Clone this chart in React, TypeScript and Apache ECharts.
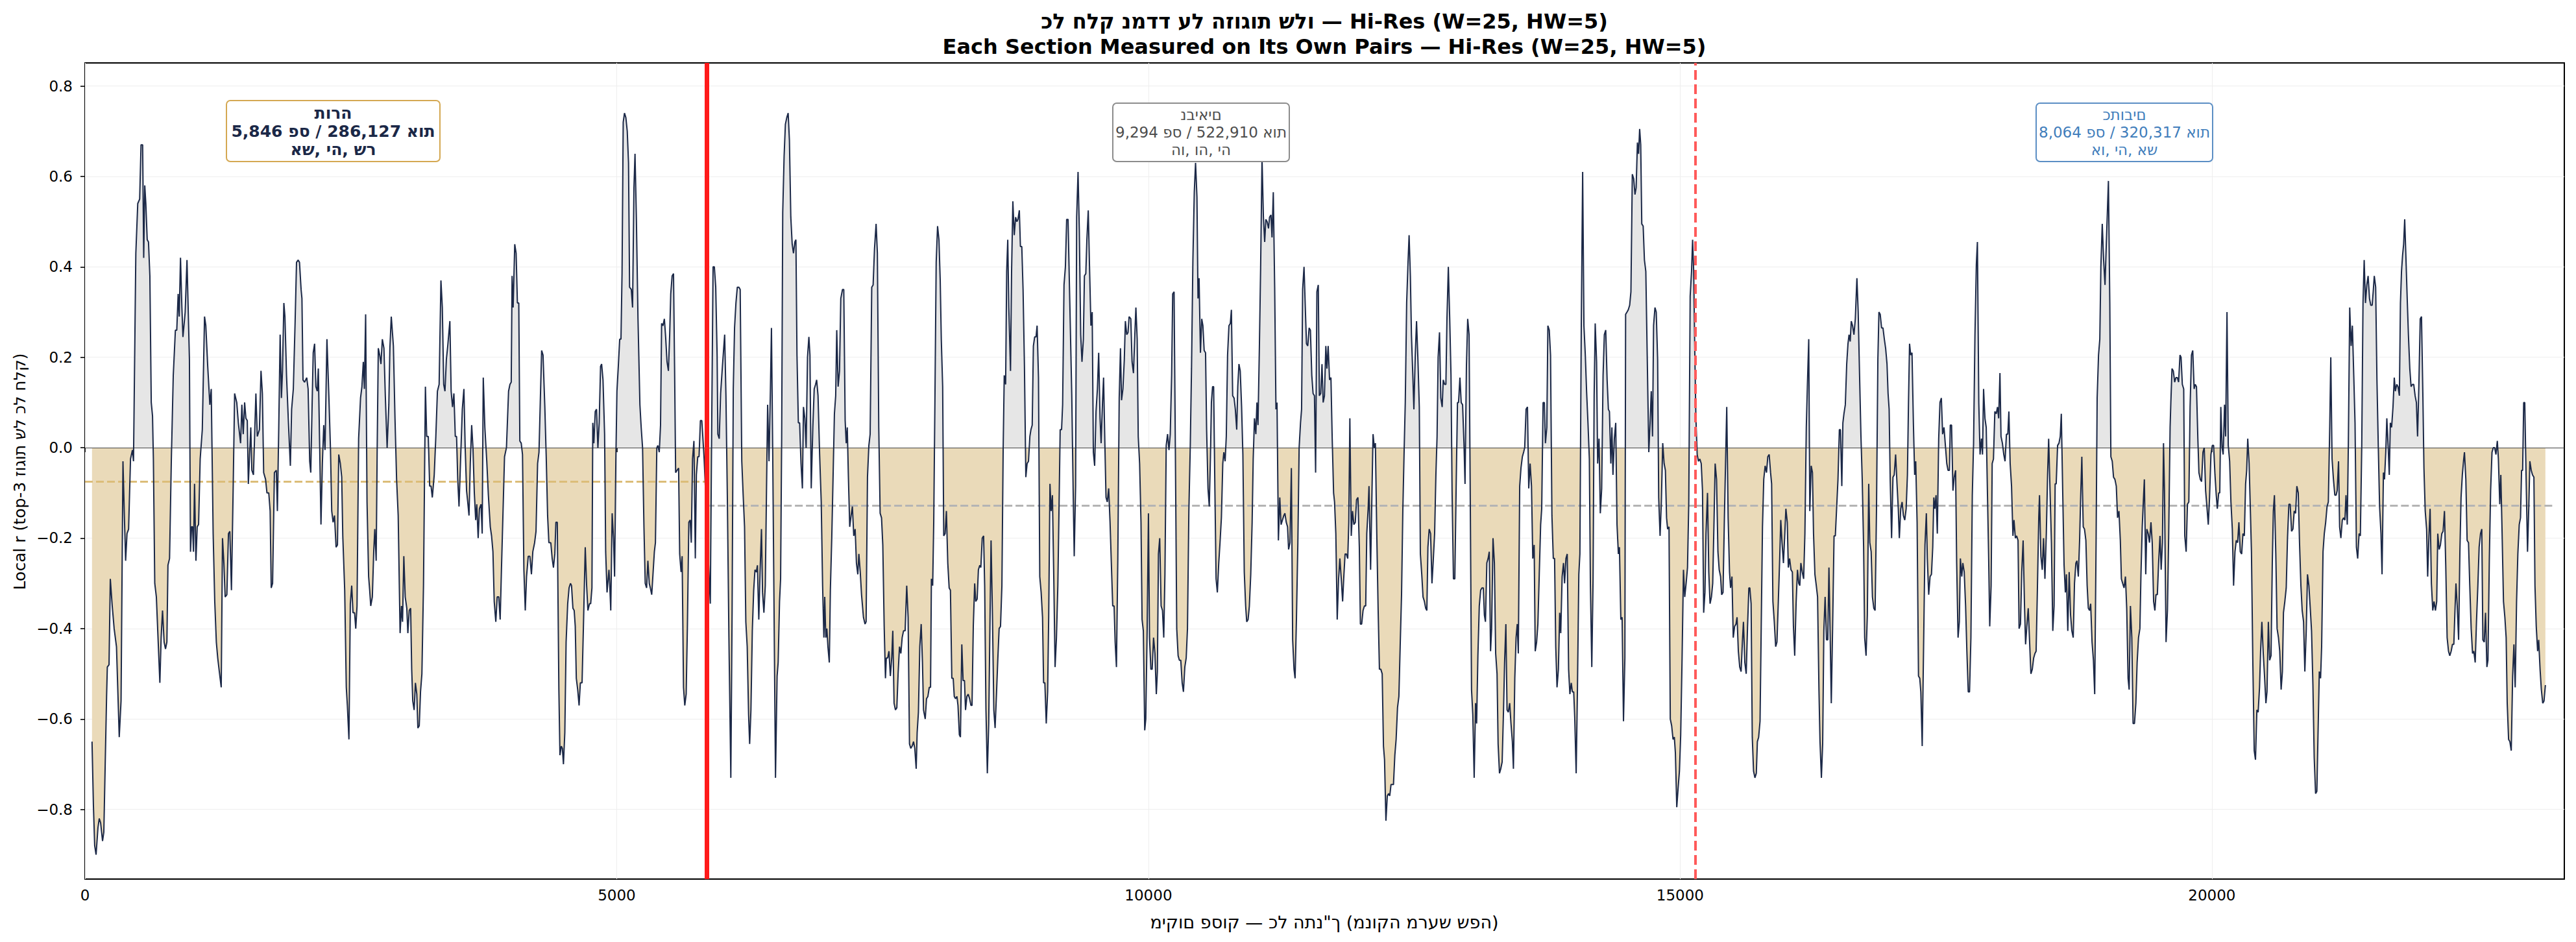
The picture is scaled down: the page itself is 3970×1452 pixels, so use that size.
import React, { useEffect, useRef } from "react";
import * as echarts from "echarts";

// ---------- texts ----------
const TITLE_HE = "כל חלק נמדד על הזוגות שלו — Hi-Res (W=25, HW=5)";
const TITLE_EN = "Each Section Measured on Its Own Pairs — Hi-Res (W=25, HW=5)";
const X_LABEL = "מיקום פסוק — כל התנ\"ך (מנוקה מרעש שפה)";
const Y_LABEL = "Local r (top-3 זוגות של כל חלק)";

const SECTION_NAMES = ["תורה", "נביאים", "כתובים"];
const SECTION_STATS = ["5,846 פס / 286,127 אות", "9,294 פס / 522,910 אות", "8,064 פס / 320,317 אות"];
const SECTION_TOP_PAIRS = ["אש, יה, שר", "הו, וה, יה", "או, יה, אש"];
const SECTION_STARTS = [0, 5846, 15140];
const SECTION_ENDS = [5846, 15140, 23204];
const SECTION_MEANS = [-0.075, -0.128, -0.128];

const X_TICK_STEP = 5000;
const X_TICKS = [0, 5000, 10000, 15000, 20000];
const Y_TICK_STEP = 0.2;
const Y_TICKS = [-0.8, -0.6, -0.4, -0.2, 0, 0.2, 0.4, 0.6, 0.8];
const X_MAX = 23314;
const Y_MIN = -0.954;
const Y_MAX = 0.851;

// ---------- data: [verse position, local r] ----------
const TORAH: [number, number][] = [
[66,-0.65],[79,-0.79],[91,-0.88],[104,-0.9],[122,-0.84],[134,-0.82],[147,-0.83],[165,-0.87],[177,-0.85],[203,-0.55],
[210,-0.485],[226,-0.48],[238,-0.29],[256,-0.35],[274,-0.4],[296,-0.44],[322,-0.64],[339,-0.56],[357,-0.03],[370,-0.15],
[382,-0.25],[395,-0.19],[410,-0.18],[428,-0.025],[446,-0.005],[456,-0.03],[478,0.43],[496,0.54],[514,0.55],[527,0.67],
[542,0.67],[552,0.42],[562,0.58],[572,0.54],[585,0.46],[597,0.455],[610,0.38],[623,0.1],[635,0.07],[643,-0.025],
[656,-0.3],[671,-0.33],[704,-0.52],[716,-0.42],[729,-0.36],[744,-0.43],[757,-0.445],[770,-0.43],[780,-0.26],[795,-0.245],
[812,-0.025],[830,0.16],[850,0.26],[863,0.26],[876,0.34],[886,0.29],[898,0.42],[911,0.31],[921,0.245],[942,0.3],
[959,0.415],[982,0.195],[992,-0.23],[1002,-0.175],[1012,-0.175],[1020,-0.23],[1030,-0.08],[1043,-0.25],[1055,-0.175],[1068,-0.17],
[1083,-0.025],[1103,0.04],[1124,0.29],[1136,0.27],[1154,0.18],[1174,0.095],[1187,0.13],[1205,-0.19],[1220,-0.34],[1235,-0.43],
[1248,-0.465],[1263,-0.495],[1281,-0.53],[1293,-0.2],[1306,-0.255],[1318,-0.33],[1334,-0.325],[1349,-0.19],[1362,-0.185],[1377,-0.315],
[1394,-0.08],[1407,0.12],[1427,0.1],[1442,0.055],[1463,0.01],[1475,0.095],[1488,0.03],[1501,0.1],[1513,0.065],[1526,0.06],
[1536,-0.08],[1546,-0.025],[1559,0.045],[1569,-0.05],[1584,-0.06],[1607,0.12],[1620,0.025],[1640,0.04],[1655,0.17],[1668,0.12],
[1680,-0.055],[1698,-0.07],[1711,-0.1],[1728,-0.1],[1741,-0.14],[1751,-0.31],[1764,-0.3],[1781,-0.055],[1799,-0.05],[1809,-0.14],
[1822,0.045],[1835,0.25],[1847,0.11],[1857,0.17],[1870,0.32],[1880,0.29],[1895,0.16],[1913,0.055],[1931,-0.04],[1943,0.085],
[1959,0.13],[1976,0.28],[1989,0.41],[2004,0.415],[2017,0.41],[2032,0.35],[2040,0.33],[2050,0.15],[2065,0.145],[2085,0.155],
[2098,0.13],[2113,-0.03],[2123,-0.055],[2136,0.1],[2146,0.21],[2159,0.23],[2171,0.135],[2184,0.125],[2194,0.175],[2207,0],
[2219,-0.17],[2232,-0.035],[2245,0.05],[2257,-0.005],[2275,0.24],[2293,0.115],[2308,0],[2320,-0.14],[2333,-0.165],[2346,-0.15],
[2361,-0.22],[2374,-0.215],[2386,-0.015],[2401,-0.035],[2414,-0.065],[2424,-0.195],[2442,-0.315],[2457,-0.53],[2467,-0.57],[2482,-0.645],
[2495,-0.345],[2508,-0.305],[2520,-0.365],[2535,-0.365],[2546,-0.4],[2558,-0.35],[2573,0.02],[2591,0.11],[2604,0.135],[2617,0.19],
[2627,0.13],[2639,0.295],[2652,-0.12],[2667,-0.285],[2677,-0.315],[2687,-0.35],[2702,-0.33],[2715,-0.23],[2725,-0.18],[2738,-0.25],
[2748,0.01],[2758,0.22],[2771,0.205],[2783,0.185],[2796,0.24],[2811,0.22],[2824,0.115],[2841,0],[2857,0.095],[2867,0.22],
[2880,0.29],[2900,0.225],[2915,0.065],[2930,-0.07],[2945,-0.15],[2963,-0.41],[2976,-0.35],[2986,-0.385],[2998,-0.24],[3011,-0.33],
[3026,-0.355],[3036,-0.41],[3049,-0.36],[3062,-0.355],[3072,-0.49],[3082,-0.56],[3095,-0.58],[3107,-0.52],[3120,-0.545],[3130,-0.62],
[3143,-0.615],[3155,-0.54],[3168,-0.5],[3183,-0.305],[3201,0.135],[3213,0.025],[3228,0.025],[3241,-0.085],[3254,-0.085],[3266,-0.11],
[3284,-0.06],[3299,0.025],[3314,0.125],[3330,0.14],[3347,0.37],[3360,0.31],[3373,0.14],[3385,0.125],[3398,0.195],[3411,0.225],
[3431,0.28],[3443,0.125],[3456,0.09],[3469,0.12],[3482,0.025],[3494,0.025],[3505,-0.07],[3517,-0.13],[3532,-0.025],[3548,0.085],
[3563,0.13],[3575,0],[3588,-0.095],[3601,-0.125],[3611,-0.15],[3623,-0.035],[3636,0.05],[3648,0],[3661,-0.1],[3674,-0.16],
[3684,-0.125],[3697,-0.2],[3709,-0.135],[3724,-0.125],[3735,-0.19],[3745,0.155],[3760,0.045],[3778,-0.03],[3793,-0.105],[3811,-0.175],
[3823,-0.195],[3836,-0.23],[3848,-0.34],[3863,-0.385],[3876,-0.33],[3891,-0.33],[3904,-0.38],[3916,-0.27],[3931,-0.14],[3945,-0.02],
[3963,0],[3983,0.125],[3996,0.14],[4008,0.145],[4016,0.38],[4026,0.31],[4041,0.45],[4054,0.43],[4066,0.32],[4079,0.32],
[4089,0.015],[4102,0.01],[4114,-0.015],[4127,-0.27],[4140,-0.36],[4152,-0.285],[4168,-0.24],[4183,-0.24],[4198,-0.28],[4211,-0.23],
[4228,-0.21],[4241,-0.185],[4256,-0.035],[4269,-0.01],[4281,0.1],[4294,0.215],[4307,0.205],[4324,0.09],[4337,-0.02],[4350,-0.15],
[4362,-0.21],[4380,-0.21],[4393,-0.245],[4405,-0.265],[4418,-0.235],[4428,-0.165],[4441,-0.165],[4456,-0.535],[4466,-0.68],[4479,-0.66],
[4489,-0.665],[4499,-0.7],[4512,-0.63],[4524,-0.43],[4539,-0.345],[4552,-0.31],[4565,-0.3],[4575,-0.305],[4588,-0.355],[4600,-0.36],
[4610,-0.395],[4620,-0.51],[4633,-0.535],[4646,-0.57],[4658,-0.52],[4674,-0.52],[4689,-0.375],[4704,-0.22],[4717,-0.305],[4729,-0.36],
[4744,-0.345],[4755,-0.345],[4767,-0.31],[4775,0.055],[4785,0.01],[4798,0.08],[4810,0.085],[4823,0],[4835,0.055],[4848,0.18],
[4858,0.185],[4871,0.15],[4886,0.03],[4896,-0.23],[4909,-0.32],[4927,-0.27],[4934,-0.3],[4944,-0.36],[4957,-0.145],[4970,-0.2],
[4980,-0.285],[4992,-0.025],[5002,0.125],[5015,0.18],[5028,0.24],[5040,0.24],[5050,0.385],[5061,0.72],[5073,0.74],[5086,0.73],
[5099,0.7],[5111,0.63],[5121,0.355],[5137,0.35],[5149,0.31],[5162,0.575],[5172,0.65],[5185,0.505],[5200,0.285],[5218,0.095],
[5230,0.045],[5243,0],[5256,-0.175],[5268,-0.3],[5281,-0.31],[5293,-0.25],[5306,-0.3],[5316,-0.31],[5329,-0.325],[5341,-0.28],
[5354,-0.23],[5364,-0.21],[5377,0],[5387,0.005],[5400,-0.01],[5412,0.05],[5422,0.275],[5435,0.27],[5448,0.285],[5460,0.245],
[5473,0.19],[5486,0.17],[5498,0.25],[5508,0.34],[5521,0.38],[5534,0.385],[5544,0.18],[5554,-0.055],[5567,-0.05],[5582,-0.045],
[5592,-0.235],[5605,-0.275],[5615,-0.24],[5628,-0.53],[5640,-0.57],[5653,-0.545],[5665,-0.39],[5678,-0.165],[5691,-0.16],[5701,-0.21],
[5713,-0.025],[5726,0.015],[5739,-0.245],[5749,-0.06],[5762,-0.02],[5774,-0.02],[5787,0.06],[5800,0.06],[5812,0.015],[5822,-0.025],
[5835,-0.095],[5846,-0.17]
];

const NEVIIM: [number, number][] = [
[5868,-0.28],[5880,-0.345],[5893,0.045],[5906,0.4],[5918,0.4],[5931,0.355],[5944,0.205],[5951,0.03],[5964,0.02],[5977,0.12],
[5994,0.18],[6015,0.25],[6027,0.115],[6040,-0.105],[6055,-0.42],[6073,-0.73],[6085,-0.36],[6096,0.13],[6108,0.265],[6121,0.32],
[6134,0.355],[6149,0.355],[6161,0.35],[6176,-0.03],[6189,-0.105],[6202,-0.175],[6214,-0.385],[6227,-0.44],[6240,-0.59],[6250,-0.655],
[6262,-0.58],[6275,-0.405],[6288,-0.315],[6300,-0.27],[6313,-0.275],[6323,-0.26],[6336,-0.38],[6348,-0.275],[6361,-0.18],[6371,-0.32],
[6384,-0.365],[6397,-0.305],[6409,-0.085],[6419,0.095],[6432,-0.03],[6445,0.125],[6455,0.265],[6467,-0.015],[6480,-0.375],[6493,-0.73],
[6508,-0.505],[6518,-0.475],[6531,-0.34],[6541,-0.29],[6551,0.02],[6561,0.52],[6574,0.645],[6586,0.715],[6599,0.73],[6612,0.74],
[6624,0.68],[6637,0.51],[6650,0.45],[6662,0.43],[6675,0.455],[6685,0.46],[6695,0.205],[6708,0.055],[6720,0.055],[6733,-0.035],
[6746,-0.09],[6756,0.09],[6769,0.065],[6781,0],[6794,0.2],[6807,0.245],[6817,0.205],[6829,-0.09],[6844,0.045],[6857,0.13],
[6870,0.14],[6880,0.15],[6893,0.115],[6908,-0.015],[6923,-0.12],[6936,-0.305],[6948,-0.42],[6956,-0.33],[6966,-0.42],[6976,-0.4],
[6986,-0.44],[6999,-0.475],[7009,-0.315],[7022,-0.2],[7034,-0.07],[7047,0.075],[7059,0.115],[7069,0.26],[7082,0.135],[7095,0.17],
[7107,0.33],[7123,0.35],[7135,0.35],[7148,0.06],[7158,0.01],[7168,0.045],[7178,-0.06],[7191,-0.175],[7204,-0.15],[7216,-0.13],
[7229,-0.195],[7242,-0.18],[7254,-0.255],[7267,-0.28],[7277,-0.235],[7290,-0.275],[7302,-0.325],[7320,-0.375],[7335,-0.39],[7345,-0.385],
[7358,-0.065],[7371,0.005],[7383,0.03],[7398,0.355],[7411,0.36],[7424,0.44],[7439,0.495],[7451,0.43],[7464,0.045],[7477,-0.145],
[7490,-0.155],[7502,-0.215],[7515,-0.395],[7527,-0.51],[7535,-0.465],[7548,-0.465],[7560,-0.45],[7573,-0.505],[7586,-0.465],[7596,-0.405],
[7608,-0.565],[7621,-0.58],[7634,-0.575],[7646,-0.5],[7659,-0.44],[7672,-0.455],[7684,-0.42],[7697,-0.405],[7712,-0.405],[7727,-0.305],
[7740,-0.375],[7753,-0.655],[7765,-0.665],[7778,-0.66],[7791,-0.65],[7803,-0.665],[7816,-0.71],[7825,-0.63],[7837,-0.585],[7850,-0.44],
[7863,-0.39],[7875,-0.475],[7885,-0.58],[7901,-0.6],[7913,-0.555],[7926,-0.55],[7939,-0.53],[7951,-0.53],[7959,-0.29],[7971,-0.305],
[7981,-0.165],[7992,0.1],[8004,0.41],[8017,0.49],[8030,0.46],[8042,0.37],[8052,0.24],[8065,0.135],[8075,-0.195],[8088,-0.19],
[8100,-0.14],[8113,-0.255],[8126,-0.31],[8138,-0.315],[8151,-0.51],[8164,-0.51],[8174,-0.55],[8186,-0.555],[8199,-0.55],[8209,-0.57],
[8222,-0.635],[8232,-0.64],[8245,-0.435],[8257,-0.515],[8270,-0.515],[8280,-0.58],[8293,-0.55],[8305,-0.545],[8318,-0.555],[8331,-0.57],
[8341,-0.57],[8353,-0.395],[8366,-0.3],[8376,-0.34],[8389,-0.335],[8401,-0.27],[8414,-0.26],[8424,-0.265],[8437,-0.2],[8450,-0.195],
[8460,-0.305],[8472,-0.58],[8485,-0.72],[8498,-0.61],[8508,-0.42],[8520,-0.205],[8533,-0.37],[8546,-0.58],[8558,-0.62],[8571,-0.545],
[8584,-0.465],[8596,-0.4],[8609,-0.395],[8622,-0.305],[8634,0],[8644,0.16],[8657,0.14],[8667,0.39],[8677,0.46],[8687,0.31],
[8703,0.17],[8713,0.39],[8725,0.545],[8738,0.47],[8751,0.51],[8763,0.5],[8773,0.505],[8786,0.525],[8796,0.445],[8809,0.445],
[8821,0.35],[8834,0.18],[8847,-0.065],[8859,-0.035],[8872,-0.03],[8885,0.025],[8895,0.04],[8907,0.05],[8918,0.225],[8930,0.245],
[8943,0.245],[8953,0.27],[8966,0.155],[8978,-0.285],[8991,-0.32],[9004,-0.375],[9014,-0.52],[9026,-0.52],[9039,-0.61],[9052,-0.54],
[9062,-0.375],[9074,-0.08],[9085,-0.14],[9097,-0.105],[9110,-0.29],[9122,-0.485],[9135,-0.42],[9148,-0.305],[9160,-0.12],[9170,0.04],
[9183,0.04],[9193,0.095],[9206,0.36],[9219,0.4],[9231,0.505],[9244,0.505],[9256,0.37],[9267,0.25],[9279,0.115],[9292,-0.095],
[9302,-0.24],[9315,-0.085],[9325,0.51],[9338,0.61],[9350,0.48],[9363,0.25],[9375,0.19],[9388,0.24],[9398,0.38],[9411,0.385],
[9421,0.46],[9434,0.525],[9446,0.4],[9459,0.27],[9471,0.3],[9482,-0.01],[9494,-0.04],[9507,0.08],[9520,0.13],[9532,0.21],
[9545,0.065],[9555,0.01],[9568,0.1],[9578,0.155],[9591,0],[9601,-0.11],[9613,-0.12],[9626,-0.09],[9639,-0.165],[9651,-0.255],
[9664,-0.35],[9677,-0.35],[9687,-0.43],[9699,-0.485],[9712,-0.245],[9725,0.11],[9737,0.22],[9747,0.105],[9760,0.13],[9773,0.195],
[9783,0.28],[9796,0.25],[9808,0.255],[9818,0.29],[9834,0.285],[9846,0.19],[9859,0.165],[9872,0.25],[9882,0.31],[9894,0.24],
[9904,0.025],[9917,-0.035],[9930,-0.165],[9940,-0.38],[9952,-0.405],[9965,-0.625],[9975,-0.6],[9988,-0.4],[10000,-0.145],[10010,-0.42],
[10023,-0.49],[10035,-0.49],[10048,-0.42],[10061,-0.455],[10074,-0.545],[10084,-0.495],[10094,-0.235],[10106,-0.2],[10119,-0.35],[10132,-0.36],
[10144,-0.42],[10155,-0.28],[10167,0.005],[10180,0.03],[10193,-0.005],[10205,0.03],[10218,0.16],[10228,0.34],[10241,0.345],[10253,0],
[10266,-0.4],[10279,-0.46],[10291,-0.47],[10304,-0.47],[10317,-0.52],[10329,-0.54],[10342,-0.485],[10355,-0.465],[10367,-0.4],[10380,-0.14],
[10393,0],[10405,0.175],[10418,0.415],[10431,0.565],[10443,0.63],[10456,0.555],[10466,0.33],[10476,0.375],[10489,0.21],[10501,0.285],
[10512,0.27],[10524,0.215],[10537,0.21],[10547,0.04],[10560,-0.09],[10572,-0.13],[10583,-0.02],[10592,0.1],[10603,0.135],[10613,0.135],
[10625,-0.095],[10636,-0.29],[10648,-0.32],[10661,-0.255],[10673,-0.21],[10686,-0.155],[10699,-0.035],[10709,-0.01],[10721,-0.03],[10732,0.025],
[10744,0.205],[10757,0.27],[10770,0.275],[10780,0.305],[10792,0.115],[10805,0.11],[10817,0.085],[10830,0.04],[10840,0.135],[10851,0.185],
[10863,0.17],[10876,0.09],[10888,-0.015],[10901,-0.275],[10914,-0.35],[10924,-0.385],[10937,-0.38],[10949,-0.35],[10962,-0.28],[10975,-0.165],
[10985,-0.025],[10997,0.065],[11010,0.03],[11020,0.1],[11030,0.05],[11043,0.22],[11055,0.4],[11068,0.64],[11081,0.51],[11093,0.455],
[11104,0.505],[11116,0.5],[11129,0.485],[11139,0.51],[11152,0.515],[11162,0.465],[11174,0.565],[11187,0.355],[11199,0.085],[11209,0.1],
[11222,-0.205],[11235,-0.11],[11247,-0.17],[11260,-0.16],[11273,-0.15],[11283,-0.145],[11296,-0.165],[11308,-0.175],[11318,-0.225],[11331,-0.21],
[11344,-0.045],[11356,-0.425],[11369,-0.49],[11379,-0.51],[11392,-0.375],[11405,-0.21],[11417,0],[11430,0.055],[11440,0.085],[11450,0.35],
[11463,0.4],[11475,0.31],[11486,0.23],[11498,0.225],[11511,0.265],[11523,0.26],[11536,0.16],[11548,0.12],[11561,0.115],[11572,-0.055],
[11584,0.345],[11597,0.36],[11607,0.115],[11620,0.12],[11632,0.185],[11643,0.1],[11655,0.115],[11668,0.225],[11678,0.175],[11690,0.225],
[11703,0.15],[11716,0.155],[11728,0.02],[11741,-0.1],[11750,-0.12],[11762,-0.19],[11775,-0.38],[11788,-0.29],[11800,-0.245],[11813,-0.29],
[11826,-0.34],[11836,-0.29],[11849,-0.235],[11861,-0.235],[11874,-0.245],[11884,-0.165],[11894,0.065],[11907,-0.195],[11919,-0.14],[11932,-0.17],
[11945,-0.165],[11957,-0.115],[11970,-0.11],[11983,-0.22],[11993,-0.39],[12005,-0.39],[12018,-0.36],[12031,-0.35],[12043,-0.35],[12053,-0.19],
[12066,-0.135],[12074,-0.085],[12089,-0.27],[12101,-0.11],[12112,0.03],[12124,0],[12134,0.01],[12147,-0.19],[12160,-0.36],[12172,-0.49],
[12185,-0.49],[12198,-0.5],[12210,-0.66],[12220,-0.69],[12233,-0.825],[12246,-0.77],[12258,-0.765],[12269,-0.77],[12281,-0.745],[12291,-0.745],
[12304,-0.745],[12317,-0.68],[12329,-0.645],[12342,-0.575],[12355,-0.55],[12367,-0.44],[12380,-0.325],[12392,-0.14],[12405,0],[12415,0.1],
[12428,0.32],[12441,0.41],[12451,0.47],[12463,0.38],[12473,0.25],[12486,0.16],[12496,0.085],[12509,0.205],[12521,0.28],[12534,0.195],
[12547,0.09],[12557,-0.235],[12570,-0.28],[12582,-0.33],[12595,-0.34],[12607,-0.355],[12618,-0.36],[12628,-0.22],[12640,-0.18],[12653,-0.19],
[12666,-0.3],[12678,-0.25],[12691,-0.19],[12703,-0.06],[12714,0.025],[12724,0.2],[12737,0.255],[12749,0.11],[12762,0.09],[12772,0.15],
[12785,0.14],[12797,0.14],[12807,0.285],[12820,0.4],[12833,0.285],[12845,0.16],[12855,-0.095],[12868,-0.29],[12881,-0.29],[12893,-0.095],
[12906,0.1],[12916,0.1],[12929,0.155],[12941,0.1],[12954,0.095],[12967,0.01],[12977,-0.08],[12990,0.18],[13002,0.285],[13015,0.25],
[13025,-0.07],[13038,-0.535],[13050,-0.59],[13063,-0.73],[13076,-0.565],[13086,-0.61],[13098,-0.46],[13111,-0.35],[13124,-0.315],[13136,-0.31],
[13149,-0.31],[13159,-0.37],[13169,-0.385],[13182,-0.255],[13194,-0.245],[13205,-0.23],[13217,-0.45],[13227,-0.4],[13240,-0.2],[13253,-0.255],
[13265,-0.455],[13278,-0.5],[13288,-0.655],[13301,-0.72],[13313,-0.71],[13326,-0.695],[13339,-0.58],[13349,-0.475],[13361,-0.39],[13372,-0.58],
[13384,-0.585],[13397,-0.565],[13409,-0.61],[13422,-0.65],[13432,-0.71],[13445,-0.51],[13457,-0.42],[13468,-0.39],[13478,-0.455],[13491,-0.085],
[13503,-0.045],[13516,-0.02],[13528,-0.01],[13538,0],[13551,0.085],[13564,0.09],[13576,-0.09],[13589,-0.035],[13602,-0.085],[13614,-0.245],
[13627,-0.215],[13637,-0.45],[13650,-0.43],[13662,-0.39],[13675,-0.28],[13688,-0.17],[13698,-0.135],[13711,0.1],[13723,0.1],[13733,0.01],
[13746,0.045],[13756,0.27],[13769,0.26],[13781,0.205],[13794,-0.15],[13807,-0.245],[13819,-0.245],[13830,-0.44],[13842,-0.53],[13855,-0.49],
[13867,-0.365],[13877,-0.41],[13890,-0.285],[13903,-0.255],[13913,-0.3],[13926,-0.245],[13938,-0.235],[13951,-0.49],[13963,-0.545],[13976,-0.52],
[13986,-0.54],[13999,-0.54],[14009,-0.6],[14022,-0.72],[14034,-0.535],[14047,-0.28],[14057,-0.235],[14070,0.265],[14083,0.61],[14095,0.27],
[14108,0.205],[14120,0.125],[14133,0.055],[14146,-0.025],[14156,-0.305],[14169,-0.485],[14181,-0.29],[14191,0.115],[14201,0.275],[14214,0.19],
[14224,-0.035],[14237,0.02],[14249,-0.145],[14262,-0.09],[14275,0.16],[14287,0.25],[14300,0.26],[14313,0.15],[14325,0.085],[14335,0.08],
[14348,-0.035],[14358,0.045],[14368,-0.06],[14381,0.02],[14394,0.055],[14406,-0.17],[14419,-0.235],[14429,-0.22],[14442,-0.38],[14454,-0.375],
[14467,-0.605],[14480,-0.465],[14487,0.295],[14500,0.3],[14512,0.305],[14525,0.315],[14537,0.345],[14550,0.605],[14563,0.595],[14575,0.56],
[14586,0.575],[14598,0.675],[14609,0.65],[14619,0.705],[14629,0.67],[14639,0.495],[14652,0.49],[14664,0.415],[14677,0.39],[14690,0.205],
[14705,-0.01],[14717,0.055],[14728,0.125],[14740,0.025],[14750,0.27],[14763,0.31],[14775,0.3],[14788,0.195],[14798,-0.11],[14811,-0.195],
[14823,-0.12],[14836,0.01],[14849,-0.035],[14861,-0.05],[14872,-0.155],[14882,-0.18],[14895,-0.175],[14907,-0.6],[14920,-0.615],[14933,-0.645],
[14945,-0.64],[14955,-0.675],[14968,-0.795],[14980,-0.755],[14993,-0.715],[15005,-0.635],[15018,-0.465],[15031,-0.27],[15043,-0.33],[15056,-0.3],
[15069,-0.265],[15081,-0.12],[15094,0.335],[15107,0.39],[15117,0.46],[15127,0.39],[15138,0.205]
];

const KETUVIM: [number, number][] = [
[15148,0.065],[15160,-0.015],[15172,-0.03],[15185,-0.025],[15198,-0.035],[15210,-0.095],[15221,-0.365],[15233,-0.32],[15243,-0.19],[15257,-0.1],
[15269,-0.275],[15281,-0.345],[15294,-0.33],[15306,-0.3],[15319,-0.155],[15329,-0.035],[15342,-0.07],[15355,-0.23],[15367,-0.27],[15380,-0.285],
[15390,-0.325],[15403,-0.32],[15416,-0.155],[15428,-0.02],[15438,0.09],[15451,-0.155],[15464,-0.275],[15474,-0.31],[15487,-0.285],[15499,-0.42],
[15512,-0.395],[15525,-0.39],[15535,-0.375],[15547,-0.45],[15560,-0.485],[15573,-0.495],[15585,-0.43],[15595,-0.385],[15608,-0.475],[15621,-0.5],
[15633,-0.4],[15646,-0.31],[15655,-0.31],[15667,-0.345],[15678,-0.64],[15690,-0.715],[15703,-0.73],[15716,-0.72],[15726,-0.65],[15738,-0.64],
[15751,-0.605],[15761,-0.42],[15774,-0.175],[15786,-0.07],[15799,-0.04],[15812,-0.055],[15824,-0.02],[15837,-0.015],[15850,-0.055],[15860,-0.08],
[15872,-0.34],[15885,-0.385],[15898,-0.44],[15910,-0.43],[15923,-0.34],[15936,-0.245],[15946,-0.16],[15958,-0.21],[15971,-0.255],[15984,-0.19],
[15994,-0.135],[16007,-0.165],[16017,-0.265],[16029,-0.245],[16042,-0.27],[16055,-0.275],[16065,-0.395],[16077,-0.46],[16090,-0.345],[16103,-0.27],
[16115,-0.3],[16125,-0.305],[16135,-0.255],[16148,-0.275],[16161,-0.29],[16173,-0.19],[16186,0.045],[16196,0.135],[16209,0.24],[16219,-0.14],
[16232,-0.04],[16244,-0.055],[16254,-0.19],[16267,-0.28],[16280,-0.305],[16292,-0.33],[16305,-0.535],[16315,-0.65],[16328,-0.73],[16340,-0.655],
[16351,-0.405],[16363,-0.33],[16376,-0.425],[16388,-0.425],[16399,-0.265],[16411,-0.42],[16421,-0.565],[16434,-0.39],[16447,-0.195],[16459,-0.195],
[16472,-0.13],[16484,-0.07],[16497,0.04],[16507,0.04],[16520,-0.085],[16530,0.055],[16540,0.075],[16553,0.095],[16566,0.185],[16578,0.23],
[16588,0.25],[16599,0.235],[16609,0.28],[16621,0.27],[16634,0.25],[16647,0.285],[16662,0.375],[16674,0.3],[16687,0.16],[16700,0.025],
[16712,-0.07],[16725,-0.22],[16735,-0.42],[16748,-0.46],[16760,-0.37],[16773,-0.08],[16783,-0.21],[16796,-0.23],[16808,-0.33],[16821,-0.355],
[16833,-0.36],[16846,-0.14],[16859,0.195],[16869,0.3],[16881,0.295],[16894,0.265],[16907,0.265],[16920,0.24],[16932,0.22],[16945,0.185],
[16955,0.12],[16965,0.085],[16975,-0.07],[16988,-0.2],[17001,-0.065],[17013,-0.06],[17026,-0.015],[17039,-0.08],[17051,-0.135],[17061,-0.2],
[17074,-0.135],[17087,-0.12],[17099,-0.15],[17112,-0.16],[17125,-0.135],[17137,-0.06],[17147,0.1],[17157,0.23],[17168,0.205],[17180,0.21],
[17193,0.055],[17205,-0.06],[17215,-0.03],[17228,-0.165],[17241,-0.505],[17253,-0.51],[17263,-0.54],[17276,-0.66],[17289,-0.44],[17302,-0.215],
[17315,-0.145],[17324,-0.245],[17337,-0.325],[17350,-0.285],[17363,-0.28],[17375,-0.22],[17385,-0.11],[17395,-0.135],[17406,-0.105],[17418,-0.19],
[17431,0.02],[17443,0.1],[17456,0.11],[17468,0.03],[17481,0.045],[17494,0.005],[17507,-0.035],[17519,-0.05],[17532,-0.05],[17540,0.05],
[17552,0.05],[17565,-0.095],[17577,-0.065],[17590,-0.05],[17600,-0.255],[17613,-0.42],[17625,-0.385],[17635,-0.245],[17648,-0.285],[17658,-0.255],
[17671,-0.275],[17684,-0.35],[17696,-0.45],[17709,-0.54],[17721,-0.54],[17734,-0.42],[17747,-0.105],[17759,0.01],[17772,0.25],[17785,0.405],
[17795,0.455],[17808,0.1],[17820,-0.015],[17833,0.02],[17843,-0.015],[17853,0.13],[17866,0.065],[17878,0.045],[17891,-0.12],[17901,-0.245],
[17911,-0.395],[17924,-0.305],[17934,-0.035],[17946,-0.025],[17959,0.08],[17972,0.075],[17984,0.09],[17995,0.065],[18007,0.165],[18017,0.025],
[18030,0.01],[18043,-0.015],[18055,-0.03],[18068,0.03],[18081,0.03],[18091,0.08],[18103,-0.035],[18116,-0.085],[18129,-0.195],[18139,-0.16],
[18152,-0.2],[18164,-0.195],[18177,-0.205],[18187,-0.4],[18200,-0.39],[18212,-0.275],[18225,-0.205],[18238,-0.35],[18248,-0.435],[18260,-0.395],
[18273,-0.355],[18286,-0.43],[18298,-0.5],[18311,-0.49],[18324,-0.465],[18336,-0.455],[18347,-0.45],[18359,-0.315],[18372,-0.155],[18379,-0.105],
[18392,-0.24],[18405,-0.27],[18417,-0.2],[18430,-0.29],[18443,-0.19],[18455,-0.06],[18465,0.02],[18478,-0.095],[18491,-0.21],[18504,-0.405],
[18516,-0.35],[18526,-0.08],[18536,-0.08],[18549,0.005],[18562,0.01],[18574,0.025],[18584,0.075],[18597,-0.095],[18610,-0.26],[18622,-0.32],
[18632,-0.28],[18645,-0.405],[18658,-0.275],[18671,-0.37],[18683,-0.405],[18696,-0.42],[18708,-0.3],[18721,-0.255],[18731,-0.25],[18744,-0.285],
[18756,-0.205],[18766,-0.11],[18777,-0.02],[18790,-0.175],[18802,-0.18],[18815,-0.205],[18827,-0.305],[18838,-0.355],[18850,-0.36],[18860,-0.345],
[18873,-0.43],[18886,-0.47],[18898,-0.545],[18911,-0.21],[18921,0.11],[18934,0.205],[18946,0.24],[18956,0.4],[18969,0.495],[18982,0.415],
[18995,0.36],[19007,0.45],[19017,0.52],[19027,0.59],[19040,0.32],[19050,-0.02],[19063,-0.03],[19075,-0.065],[19088,-0.07],[19101,-0.085],
[19113,-0.155],[19126,-0.14],[19139,-0.205],[19149,-0.29],[19161,-0.3],[19174,-0.31],[19187,-0.285],[19199,-0.355],[19212,-0.51],[19222,-0.535],
[19234,-0.35],[19247,-0.42],[19259,-0.61],[19272,-0.61],[19285,-0.565],[19297,-0.475],[19310,-0.42],[19323,-0.4],[19333,-0.28],[19345,-0.175],
[19358,-0.105],[19365,-0.07],[19378,-0.28],[19388,-0.18],[19401,-0.19],[19413,-0.21],[19427,-0.165],[19439,-0.21],[19452,-0.34],[19464,-0.36],
[19474,-0.325],[19487,-0.325],[19499,-0.255],[19512,-0.195],[19523,-0.27],[19535,-0.21],[19545,0.01],[19554,-0.095],[19569,-0.43],[19582,-0.36],
[19594,-0.19],[19607,0.045],[19614,0.1],[19625,0.175],[19637,0.17],[19650,0.145],[19662,0.155],[19675,0.155],[19687,0.145],[19700,0.205],
[19710,0.2],[19722,0.14],[19735,0.13],[19745,-0.195],[19758,-0.23],[19770,-0.125],[19783,-0.12],[19795,0.09],[19808,0.205],[19820,0.215],
[19833,0.13],[19843,0.14],[19855,0.135],[19868,0.02],[19878,-0.055],[19891,-0.07],[19903,-0.075],[19916,-0.01],[19928,0],[19941,-0.095],
[19953,-0.13],[19966,-0.17],[19978,-0.11],[19991,-0.015],[20004,0.005],[20016,0.005],[20029,-0.06],[20041,-0.105],[20051,-0.135],[20064,-0.1],
[20074,-0.1],[20084,0.09],[20096,0],[20106,-0.015],[20119,0.095],[20129,0.025],[20142,0.3],[20154,0.005],[20167,-0.03],[20179,-0.12],
[20192,-0.18],[20204,-0.305],[20217,-0.23],[20229,-0.205],[20242,-0.21],[20254,-0.165],[20267,-0.23],[20280,-0.235],[20292,-0.19],[20305,-0.195],
[20317,-0.08],[20327,-0.05],[20337,0.02],[20350,-0.035],[20362,-0.14],[20372,-0.23],[20385,-0.475],[20398,-0.67],[20410,-0.69],[20423,-0.58],
[20435,-0.585],[20448,-0.53],[20458,-0.45],[20470,-0.385],[20483,-0.455],[20495,-0.505],[20508,-0.565],[20518,-0.54],[20531,-0.385],[20543,-0.47],
[20556,-0.46],[20568,-0.255],[20578,-0.14],[20588,-0.105],[20601,-0.235],[20613,-0.4],[20626,-0.42],[20638,-0.45],[20651,-0.535],[20663,-0.495],
[20673,-0.365],[20686,-0.34],[20699,-0.31],[20711,-0.2],[20724,-0.125],[20736,-0.125],[20749,-0.185],[20762,-0.18],[20774,-0.14],[20787,-0.145],
[20799,-0.085],[20812,-0.1],[20824,-0.21],[20837,-0.305],[20849,-0.36],[20862,-0.385],[20874,-0.495],[20887,-0.405],[20899,-0.28],[20912,-0.305],
[20925,-0.355],[20937,-0.405],[20950,-0.525],[20962,-0.685],[20975,-0.765],[20987,-0.76],[21000,-0.61],[21010,-0.495],[21022,-0.51],[21032,-0.44],
[21045,-0.23],[21057,-0.19],[21070,-0.165],[21083,-0.13],[21095,-0.12],[21108,0.045],[21118,0.2],[21130,-0.025],[21143,-0.07],[21156,-0.105],
[21168,-0.105],[21178,-0.095],[21191,-0.03],[21201,-0.175],[21213,-0.2],[21226,-0.16],[21238,-0.155],[21251,-0.16],[21261,-0.105],[21273,-0.17],
[21283,0.005],[21296,0.31],[21309,0.225],[21321,0.27],[21334,0.16],[21346,0.055],[21359,-0.22],[21371,-0.245],[21384,-0.19],[21396,-0.195],
[21409,0],[21421,0.32],[21432,0.415],[21444,0.32],[21457,0.36],[21469,0.38],[21482,0.33],[21494,0.315],[21507,0.315],[21517,0.345],
[21527,0.38],[21540,0.355],[21552,0.15],[21565,0],[21577,-0.13],[21590,-0.19],[21600,-0.28],[21613,-0.055],[21623,-0.07],[21635,-0.01],
[21645,0.065],[21658,0],[21668,-0.06],[21678,0.055],[21690,0.045],[21703,0.09],[21715,0.155],[21725,0.125],[21738,0.14],[21750,0.135],
[21763,0.115],[21773,0.32],[21783,0.39],[21793,0.425],[21803,0.45],[21813,0.505],[21826,0.41],[21838,0.32],[21848,0.25],[21861,0.175],
[21873,0.135],[21886,0.14],[21898,0.14],[21911,0.115],[21923,0.1],[21934,0.025],[21946,0.135],[21959,0.285],[21971,0.29],[21984,0.115],
[21994,-0.045],[22006,-0.14],[22019,-0.18],[22029,-0.285],[22041,-0.195],[22052,-0.135],[22064,-0.3],[22077,-0.36],[22089,-0.34],[22102,-0.36],
[22114,-0.34],[22124,-0.19],[22137,-0.225],[22149,-0.215],[22162,-0.19],[22174,-0.185],[22187,-0.14],[22199,-0.26],[22212,-0.42],[22225,-0.45],
[22237,-0.46],[22250,-0.45],[22262,-0.435],[22275,-0.435],[22285,-0.365],[22295,-0.3],[22307,-0.35],[22320,-0.425],[22332,-0.23],[22343,-0.11],
[22355,-0.06],[22368,-0.025],[22375,-0.01],[22388,-0.07],[22400,-0.205],[22413,-0.21],[22425,-0.305],[22438,-0.4],[22451,-0.455],[22463,-0.45],
[22476,-0.475],[22488,-0.385],[22501,-0.305],[22513,-0.22],[22526,-0.19],[22538,-0.18],[22548,-0.425],[22561,-0.43],[22573,-0.365],[22586,-0.485],
[22596,-0.47],[22609,-0.245],[22621,-0.095],[22634,-0.01],[22646,0],[22659,0],[22671,-0.015],[22684,0.015],[22694,-0.025],[22707,-0.125],
[22717,-0.06],[22729,-0.19],[22742,-0.34],[22755,-0.375],[22767,-0.42],[22777,-0.565],[22790,-0.645],[22802,-0.65],[22815,-0.67],[22828,-0.505],
[22840,-0.435],[22852,-0.53],[22865,-0.34],[22877,-0.235],[22890,-0.17],[22902,-0.155],[22912,-0.05],[22922,-0.05],[22932,0.1],[22942,0.1],
[22955,-0.07],[22968,-0.23],[22980,-0.13],[22990,-0.03],[23003,-0.05],[23015,-0.06],[23028,-0.065],[23038,-0.305],[23050,-0.395],[23063,-0.45],
[23073,-0.425],[23086,-0.49],[23098,-0.535],[23111,-0.565],[23123,-0.56],[23136,-0.525]
];

// ---------- styling ----------
const FONT = "'DejaVu Sans', 'Noto Sans', sans-serif";
const LINE_COLOR = "#1b2847";
const NEG_FILL = "#eadab9";
const POS_FILL = "#e6e6e6";
const BOX_BORDER = ["#d4a852", "#8c8c8c", "#5b8ec4"];
const BOX_TEXT = ["#1b2847", "#4d4d4d", "#3f7dbb"];
const BOX_FONT = ["bold 25px", "23px", "23px"];
const BOX_PITCH = [28, 27, 27];
const BOX_RECT = [
  { x: 349, y: 155, w: 329, h: 94 },
  { x: 1715, y: 159, w: 272, h: 90 },
  { x: 3138, y: 159, w: 272, h: 90 },
];
const MEAN_COLORS = ["#dcbd79", "#b4b4b4", "#b4b4b4"];

const HEB = /[\u0590-\u05FF]/;

function applyBidi(root: HTMLElement) {
  root.querySelectorAll("text").forEach((t) => {
    if (HEB.test(t.textContent || "")) {
      const el = t as unknown as SVGElement;
      el.style.setProperty("unicode-bidi", "bidi-override");
      el.style.setProperty("direction", "ltr");
    }
  });
}

function fmtY(v: number): string {
  if (Math.abs(v / Y_TICK_STEP - Math.round(v / Y_TICK_STEP)) > 1e-6) return "";
  const a = Math.abs(v).toFixed(1);
  return v < -1e-9 ? "\u2212" + a : a;
}

function fmtX(v: number): string {
  return Math.abs(v % X_TICK_STEP) < 1e-6 ? String(v) : "";
}

export default function App() {
  const ref = useRef<HTMLDivElement>(null);

  useEffect(() => {
    if (!ref.current) return;
    const chart = echarts.init(ref.current, undefined, { renderer: "svg" });
    const all = [...TORAH, ...NEVIIM, ...KETUVIM];

    const meanLines = SECTION_MEANS.map((m, i) => [
      { coord: [SECTION_STARTS[i], m], lineStyle: { color: MEAN_COLORS[i], width: 3, type: [12, 5] } },
      { coord: [SECTION_ENDS[i], m] },
    ]);

    const center = (extra: any) => ({
      align: "center", verticalAlign: "middle", textAlign: "center", textVerticalAlign: "middle", ...extra,
    });

    const graphic: any[] = [
      { type: "text", x: 2041, y: 33, z: 100, style: center({ text: TITLE_HE, font: `bold 32px ${FONT}`, fill: "#000" }) },
      { type: "text", x: 2041, y: 72, z: 100, style: center({ text: TITLE_EN, font: `bold 32px ${FONT}`, fill: "#000" }) },
      { type: "text", x: 2041, y: 1421, z: 100, style: center({ text: X_LABEL, font: `27px ${FONT}`, fill: "#000" }) },
      { type: "text", x: 30, y: 727, rotation: Math.PI / 2, z: 100, style: center({ text: Y_LABEL, font: `25px ${FONT}`, fill: "#000" }) },
    ];

    BOX_RECT.forEach((b, i) => {
      graphic.push({
        type: "rect", z: 100,
        shape: { x: b.x, y: b.y, width: b.w, height: b.h, r: 6 },
        style: { fill: "#ffffff", stroke: BOX_BORDER[i], lineWidth: 2 },
      });
      const cx = b.x + b.w / 2;
      const cy = b.y + b.h / 2;
      [SECTION_NAMES[i], SECTION_STATS[i], SECTION_TOP_PAIRS[i]].forEach((txt, k) => {
        graphic.push({
          type: "text", x: cx, y: cy + (k - 1) * BOX_PITCH[i], z: 101,
          style: center({ text: txt, font: `${BOX_FONT[i]} ${FONT}`, fill: BOX_TEXT[i] }),
        });
      });
    });

    const option: any = {
      animation: false,
      backgroundColor: "#ffffff",
      textStyle: { fontFamily: FONT },
      grid: { left: 131, top: 97, width: 3821, height: 1258, show: true, borderColor: "#000", borderWidth: 2, backgroundColor: "transparent" },
      xAxis: {
        type: "value", min: 0, max: X_MAX, interval: X_TICK_STEP,
        axisLine: { show: false },
        axisTick: { show: true, length: 7, lineStyle: { color: "#000", width: 1.6 }, customValues: X_TICKS },
        axisLabel: { show: true, margin: 13, fontSize: 23, color: "#000", fontFamily: FONT, formatter: fmtX, showMaxLabel: false },
        splitLine: { show: true, lineStyle: { color: "#eeeeee", width: 1 } },
      },
      yAxis: {
        type: "value", min: Y_MIN, max: Y_MAX, minInterval: Y_TICK_STEP, maxInterval: Y_TICK_STEP, splitNumber: 9,
        axisLine: { show: false },
        axisTick: { show: true, length: 7, lineStyle: { color: "#000", width: 1.6 }, customValues: Y_TICKS },
        axisLabel: { show: true, margin: 19, fontSize: 23, color: "#000", fontFamily: FONT, formatter: fmtY },
        splitLine: { show: true, lineStyle: { color: "#eeeeee", width: 1 } },
      },
      visualMap: {
        show: false, type: "piecewise", seriesIndex: 0, dimension: 1,
        pieces: [{ gte: -5, lt: 0, color: NEG_FILL }, { gte: 0, lte: 5, color: POS_FILL }],
        outOfRange: { color: NEG_FILL },
      },
      series: [
        {
          type: "line", data: all, z: 2, symbol: "none", showSymbol: false, silent: true,
          lineStyle: { width: 0, opacity: 0 },
          areaStyle: { opacity: 1 },
          markLine: {
            z: 3, silent: true, symbol: ["none", "none"], label: { show: false },
            data: [
              [{ coord: [0, 0], lineStyle: { color: "#444444", width: 1.2, type: "solid" } }, { coord: [X_MAX, 0] }],
              ...meanLines,
            ],
          },
        },
        {
          type: "line", data: all, z: 4, symbol: "none", showSymbol: false, silent: true,
          lineStyle: { color: LINE_COLOR, width: 2 },
          markLine: {
            z: 6, silent: true, symbol: ["none", "none"], label: { show: false },
            data: [
              [{ coord: [SECTION_STARTS[1], Y_MIN], lineStyle: { color: "#ff1a1a", width: 7, type: "solid" } }, { coord: [SECTION_STARTS[1], Y_MAX] }],
              [{ coord: [SECTION_STARTS[2], Y_MIN], lineStyle: { color: "#ff5a5a", width: 4, type: [15, 7] } }, { coord: [SECTION_STARTS[2], Y_MAX] }],
            ],
          },
        },
      ],
      graphic,
    };

    chart.setOption(option);
    const fix = () => ref.current && applyBidi(ref.current);
    fix();
    chart.on("finished", fix);
    const t1 = setTimeout(fix, 50);
    const t2 = setTimeout(fix, 300);
    return () => {
      clearTimeout(t1);
      clearTimeout(t2);
      chart.dispose();
    };
  }, []);

  return (
    <div
      ref={ref}
      style={{ position: "fixed", left: 0, top: 0, width: "3970px", height: "1452px", background: "#fff" }}
    />
  );
}
